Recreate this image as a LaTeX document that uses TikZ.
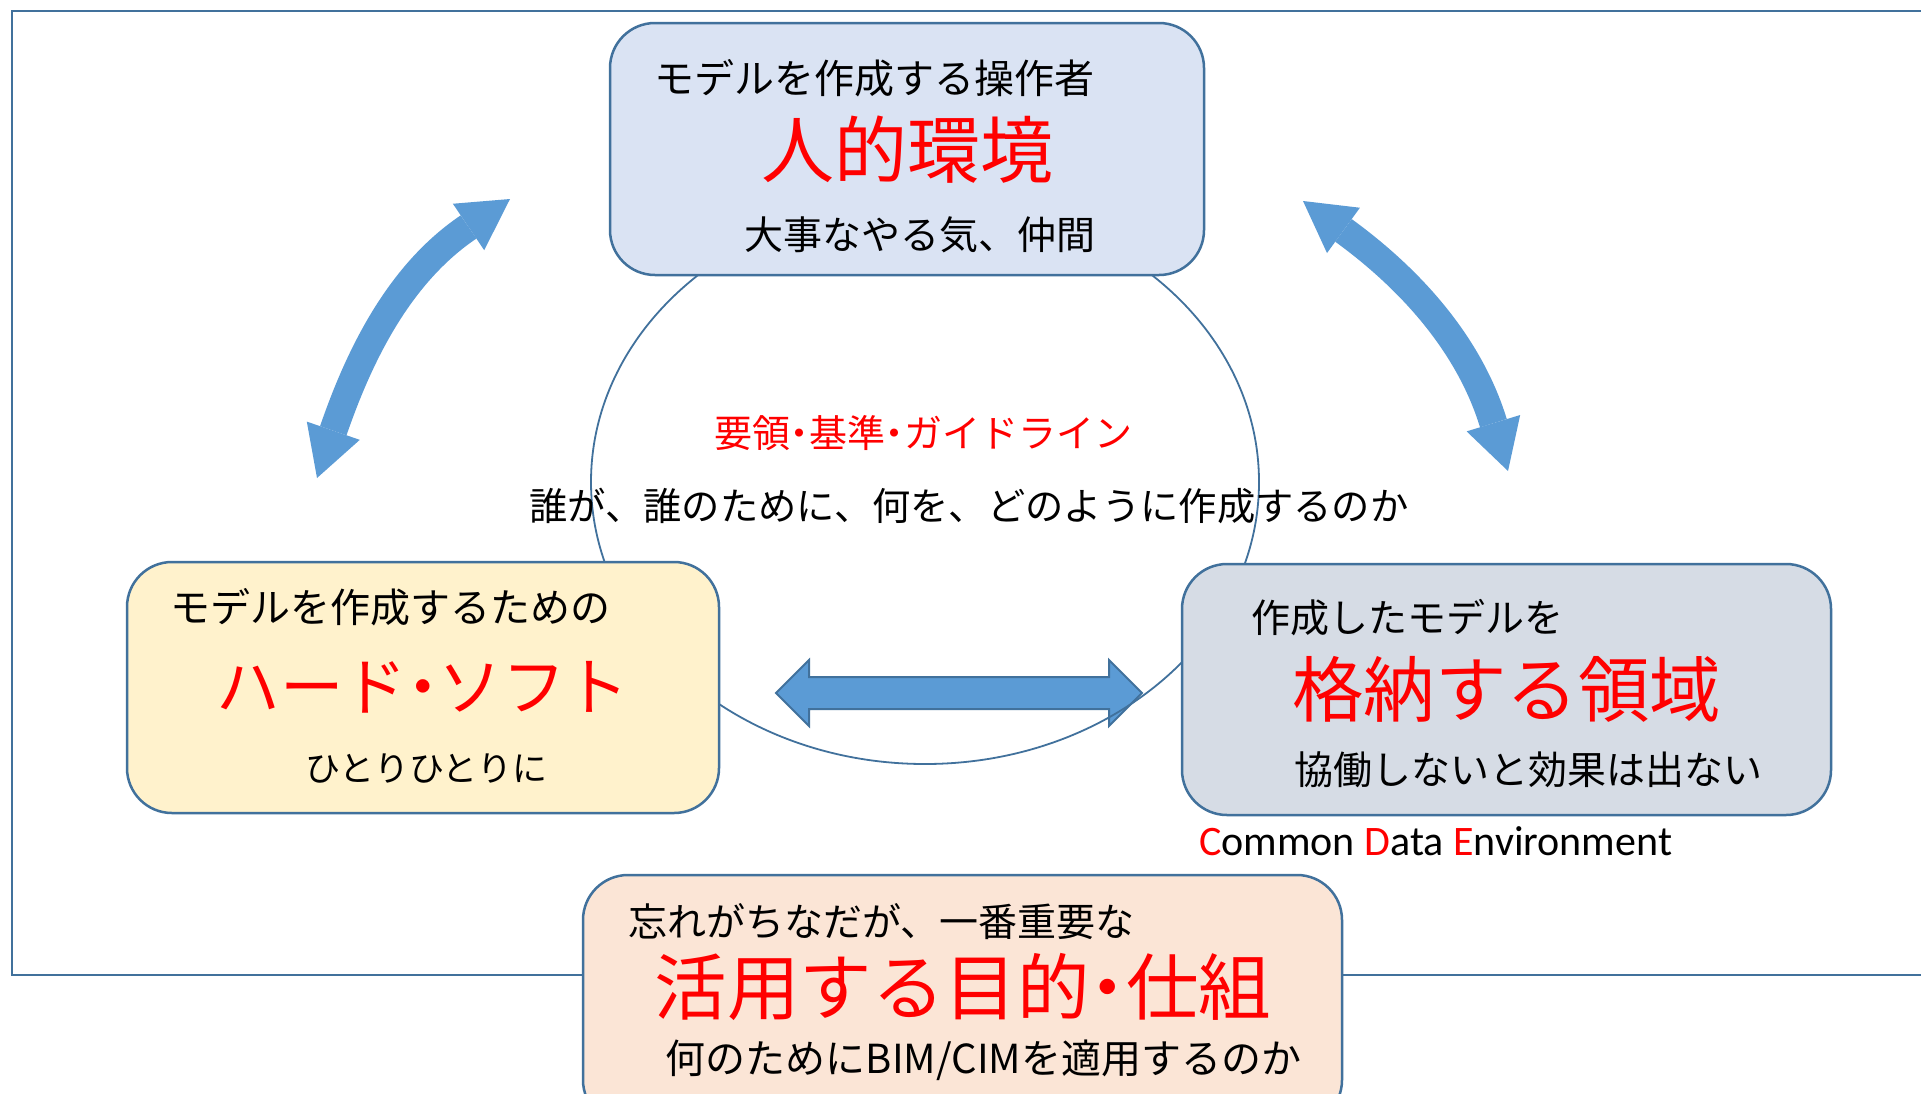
\documentclass[tikz,border=0pt]{standalone}
\usepackage{fontspec}
\newfontfamily\jpfont{Noto Sans CJK JP}
\newfontfamily\cdefont{Carlito}
\usetikzlibrary{arrows.meta,shapes.geometric}
\definecolor{edge}{HTML}{41719C}
\definecolor{arrowblue}{HTML}{5B9BD5}
\definecolor{topfill}{HTML}{DAE3F3}
\definecolor{leftfill}{HTML}{FFF2CC}
\definecolor{rightfill}{HTML}{D6DCE5}
\definecolor{botfill}{HTML}{FBE5D6}
\definecolor{titlered}{HTML}{FF0000}
\newcommand\myfs[1]{\fontsize{#1}{#1}\selectfont}
\newcommand\hdot{\hspace{-.25em}・\hspace{-.25em}}
\begin{document}
\begin{tikzpicture}[x=1pt,y=-1pt,
  box/.style={draw=edge, line width=2.5pt, rounded corners=45pt, inner sep=0pt},
  jt/.style={inner sep=0pt, font={\jpfont\myfs{#1}}, text=black},
  rt/.style={inner sep=0pt, font={\jpfont\myfs{#1}}, text=titlered},
  frame/.style={draw=edge, line width=2pt},
  guide/.style={ellipse, draw=edge, line width=1.8pt, inner sep=0pt},
  curvearrow/.style={draw=arrowblue, line width=28pt,
    {Triangle[length=50pt,width=56pt,line width=0pt]}-{Triangle[length=50pt,width=56pt,line width=0pt]}},
  hbar/.style={fill=arrowblue, draw=edge, line width=2pt, line join=miter}
]
\useasboundingbox (0,0) rectangle (1921,1093);
\clip (0,0) rectangle (1921,1093);
\fill[white] (0,0) rectangle (1921,1093);

% outer frame
\draw[frame] (12,11) rectangle (1980,975);

% horizontal double arrow
\coordinate (hL) at (776,693);
\coordinate (hR) at (1142,693);
\draw[hbar] (hL) -- ++(33,-33) -- ++(0,17) -- ++(300,0) -- ++(0,-17) -- (hR)
  -- ++(-33,33) -- ++(0,-17) -- ++(-300,0) -- ++(0,17) -- cycle;

% central ellipse
\node[guide, minimum width=668pt, minimum height=564pt] (oval) at (925,482) {};

% boxes
\node[box, fill=topfill, minimum width=594pt, minimum height=252pt] (topbox) at (907,149) {};
\node[box, fill=leftfill, minimum width=592pt, minimum height=251pt] (leftbox) at (423,687.5) {};
\node[box, fill=rightfill, minimum width=649pt, minimum height=251pt] (rightbox) at (1506.5,689.5) {};
\node[box, fill=botfill, minimum width=759pt, minimum height=250pt] (botbox) at (962.5,1000) {};

% curved double arrows
\coordinate (la1) at (510,199);
\coordinate (la2) at (317,478);
\draw[curvearrow] (la1) to[out=214,in=71] (la2);
\coordinate (ra1) at (1303,201);
\coordinate (ra2) at (1508,471);
\draw[curvearrow] (ra1) to[out=-36,in=107] (ra2);

% top box texts
\node[jt=40] (t1) at (874.5,78) {モデルを作成する操作者};
\node[rt=73] (t2) at (907.5,150) {人的環境};
\node[jt=39] (t3) at (920,235) {大事なやる気、仲間};

% left box texts
\node[jt=40] (l1) at (390.5,607) {モデルを作成するための};
\node[rt=63.5] (l2) at (423,687) {ハード\hdot ソフト};
\node[jt=35] (l3) at (426.5,769) {ひとりひとりに};

% right box texts
\node[jt=39] (r1) at (1407,618) {作成したモデルを};
\node[rt=71.5] (r2) at (1506.5,689) {格納する領域};
\node[jt=39] (r3) at (1528.5,770) {協働しないと効果は出ない};
\node[inner sep=0pt, anchor=base west, font={\cdefont\myfs{42}}] (cde) at (1199,855)
  {\textcolor{titlered}{C}ommon \textcolor{titlered}{D}ata \textcolor{titlered}{E}nvironment};

% centre texts
\node[rt=38] (c1) at (923,433) {要領\hdot 基準\hdot ガイドライン};
\node[jt=38.3] (c2) at (969,506) {誰が、誰のために、何を、どのように作成するのか};

% bottom box texts
\node[jt=39] (b1) at (881.5,922) {忘れがちなだが、一番重要な};
\node[rt=72.5] (b2) at (963,987) {活用する目的\hdot 仕組};
\node[jt=40] (b3) at (983.5,1060) {何のためにBIM/CIMを適用するのか};
\end{tikzpicture}
\end{document}
